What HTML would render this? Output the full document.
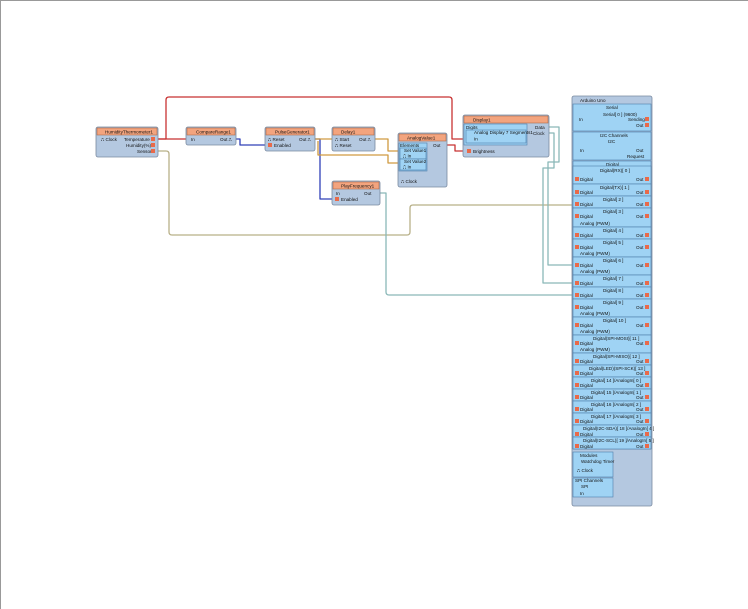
<!DOCTYPE html>
<html><head><meta charset="utf-8"><style>
html,body{margin:0;padding:0;background:#fff;}
svg{display:block;font-family:"Liberation Sans",sans-serif;}
text{font-size:4.6px;fill:#111;}
.b{fill:#b4c8e0;stroke:#7a8aa0;stroke-width:0.8;}
.h{fill:#f3a47e;stroke:#b06a48;stroke-width:0.6;}
.s{fill:#9fd3f4;stroke:#4f7ea8;stroke-width:0.6;}
.w{fill:none;stroke-width:1.3;stroke-linejoin:round;}
.p{fill:#fff;stroke:#555;stroke-width:0.5;}
.ic{fill:#e86a4a;}
</style></head><body>
<svg width="748" height="609" viewBox="0 0 748 609">
<rect x="0" y="0" width="748" height="609" fill="#fff"/>
<path d="M0.5,609 V0.5 H748" fill="none" stroke="#999"/>
<!-- wires -->
<path class="w" stroke="#c83232" d="M158,139 H166 V100 Q166,97 169,97 H449 Q452,97 452,100 V139 H465"/>
<path class="w" stroke="#c83232" d="M158,139 H186"/>
<path class="w" stroke="#c83232" d="M447,145 H455 V151 H465"/>
<path class="w" stroke="#3040b8" d="M236,139 H240 V145 H265"/>
<path class="w" stroke="#3040b8" d="M315,139 H320 V199 H332"/>
<path class="w" stroke="#d09a40" d="M315,139 H332"/>
<path class="w" stroke="#d09a40" d="M318,141 V155 H388 V163 H398"/>
<path class="w" stroke="#d09a40" d="M375,139 H388 V151 H398"/>
<path class="w" stroke="#b8b088" d="M158,151 H166 Q169,151 169,154 V232 Q169,235 172,235 H407 Q410,235 410,232 V208 Q410,205 413,205 H572"/>
<path class="w" stroke="#8ab8b8" d="M380,193 H386 V292 Q386,295 389,295 H572"/>
<path class="w" stroke="#8ab8b8" d="M549,127 H559 V162 H548 V265 H572"/>
<path class="w" stroke="#8ab8b8" d="M549,133 H554 V168 H543 V283 H572"/>

<!-- HumidityThermometer1 -->
<rect class="b" x="96" y="127" width="62" height="30" rx="2"/>
<rect class="h" x="97" y="128" width="60" height="7"/>
<text x="105" y="133.5">HumidityThermometer1</text>
<text x="101" y="141">⎍ Clock</text>
<text x="124" y="141">Temperature</text>
<text x="126" y="147">Humidity(%)</text>
<text x="137" y="153">Sensor</text>
<rect class="ic" x="151" y="137" width="4" height="4"/><rect class="ic" x="151" y="143" width="4" height="4"/><rect class="ic" x="151" y="149" width="4" height="4"/>
<!-- CompareRange1 -->
<rect class="b" x="186" y="127" width="50" height="18" rx="2"/>
<rect class="h" x="187" y="128" width="48" height="7"/>
<text x="196" y="133.5">CompareRange1</text>
<text x="191" y="141">In</text><text x="220" y="141">Out ⎍</text>
<!-- PulseGenerator1 -->
<rect class="b" x="265" y="127" width="50" height="24" rx="2"/>
<rect class="h" x="266" y="128" width="48" height="7"/>
<text x="275" y="133.5">PulseGenerator1</text>
<text x="268" y="141">⎍ Reset</text><text x="299" y="141">Out ⎍</text>
<rect class="ic" x="268" y="143" width="4" height="4"/><text x="274" y="147">Enabled</text>
<!-- Delay1 -->
<rect class="b" x="332" y="127" width="43" height="24" rx="2"/>
<rect class="h" x="333" y="128" width="41" height="7"/>
<text x="341" y="133.5">Delay1</text>
<text x="335" y="141">⎍ Start</text><text x="359" y="141">Out ⎍</text>
<text x="335" y="147">⎍ Reset</text>
<!-- PlayFrequency1 -->
<rect class="b" x="332" y="181" width="48" height="24" rx="2"/>
<rect class="h" x="333" y="182" width="46" height="7"/>
<text x="341" y="187.5">PlayFrequency1</text>
<text x="336" y="195">In</text><text x="364" y="195">Out</text>
<rect class="ic" x="335" y="197" width="4" height="4"/><text x="341" y="201">Enabled</text>
<!-- AnalogValue1 -->
<rect class="b" x="398" y="133" width="49" height="54" rx="2"/>
<rect class="h" x="399" y="134" width="47" height="7"/>
<text x="407" y="139.5">AnalogValue1</text>
<text x="433" y="147">Out</text>
<rect class="s" x="399" y="143" width="28" height="28"/>
<text x="400" y="147">Elements</text>
<rect class="s" x="400" y="148" width="26" height="11"/>
<text x="404" y="152">Set Value1</text><text x="403" y="157.5">⎍ In</text>
<rect class="s" x="400" y="159" width="26" height="11"/>
<text x="404" y="163">Set Value2</text><text x="403" y="168.5">⎍ In</text>
<text x="401" y="183">⎍ Clock</text>
<!-- Display1 -->
<rect class="b" x="463" y="115" width="86" height="42" rx="2"/>
<rect class="h" x="464" y="116" width="84" height="7"/>
<text x="473" y="121.5">Display1</text>
<rect class="s" x="464" y="124" width="63" height="21"/>
<text x="466" y="129">Digits</text>
<rect class="s" x="466" y="130" width="60" height="13"/>
<text x="474" y="134">Analog Display 7 Segments1</text>
<text x="474" y="140.5">In</text>
<text x="535" y="129">Data</text><text x="533" y="135">Clock</text>
<text x="473" y="153">Brightness</text>
<rect class="ic" x="467" y="149" width="4" height="4"/>

<!-- Arduino -->
<rect x="572" y="96" width="80" height="410" rx="2" fill="#b4c8e0" stroke="#7a8aa0" stroke-width="0.8"/>
<text x="580" y="102">Arduino Uno</text>
<rect class="s" x="573" y="104" width="78" height="27"/>
<text x="606" y="109">Serial</text><text x="603" y="116">Serial[ 0 ] (9600)</text>
<text x="579" y="121">In</text><text x="628" y="121">Sending</text><text x="636" y="127">Out</text>
<rect class="s" x="573" y="132" width="78" height="28"/>
<text x="600" y="137">I2C Channels</text><text x="608" y="143">I2C</text>
<text x="580" y="152">In</text><text x="636" y="152">Out</text><text x="627" y="158">Request</text>
<rect class="s" x="573" y="161" width="78" height="288"/>
<text x="606" y="166">Digital</text>
<g id="pins">
<rect class="s" x="573" y="166" width="78" height="18"/><text x="600" y="172">Digital(RX)[ 0 ]</text><text x="580" y="181">Digital</text><text x="636" y="181">Out</text>
<rect class="s" x="573" y="184" width="78" height="12"/><text x="600" y="189">Digital(TX)[ 1 ]</text><text x="580" y="194">Digital</text><text x="636" y="194">Out</text>
<rect class="s" x="573" y="196" width="78" height="12"/><text x="603" y="201">Digital[ 2 ]</text><text x="580" y="206">Digital</text><text x="636" y="206">Out</text>
<rect class="s" x="573" y="208" width="78" height="19"/><text x="603" y="213">Digital[ 3 ]</text><text x="580" y="218">Digital</text><text x="636" y="218">Out</text><text x="580" y="225">Analog (PWM)</text>
<rect class="s" x="573" y="227" width="78" height="12"/><text x="603" y="232">Digital[ 4 ]</text><text x="580" y="237">Digital</text><text x="636" y="237">Out</text>
<rect class="s" x="573" y="239" width="78" height="18"/><text x="603" y="244">Digital[ 5 ]</text><text x="580" y="249">Digital</text><text x="636" y="249">Out</text><text x="580" y="255">Analog (PWM)</text>
<rect class="s" x="573" y="257" width="78" height="18"/><text x="603" y="262">Digital[ 6 ]</text><text x="580" y="267">Digital</text><text x="636" y="267">Out</text><text x="580" y="273">Analog (PWM)</text>
<rect class="s" x="573" y="275" width="78" height="12"/><text x="603" y="280">Digital[ 7 ]</text><text x="580" y="285">Digital</text><text x="636" y="285">Out</text>
<rect class="s" x="573" y="287" width="78" height="12"/><text x="603" y="292">Digital[ 8 ]</text><text x="580" y="297">Digital</text><text x="636" y="297">Out</text>
<rect class="s" x="573" y="299" width="78" height="18"/><text x="603" y="304">Digital[ 9 ]</text><text x="580" y="309">Digital</text><text x="636" y="309">Out</text><text x="580" y="315">Analog (PWM)</text>
<rect class="s" x="573" y="317" width="78" height="18"/><text x="603" y="322">Digital[ 10 ]</text><text x="580" y="327">Digital</text><text x="636" y="327">Out</text><text x="580" y="333">Analog (PWM)</text>
<rect class="s" x="573" y="335" width="78" height="18"/><text x="593" y="340">Digital(SPI-MOSI)[ 11 ]</text><text x="580" y="345">Digital</text><text x="636" y="345">Out</text><text x="580" y="351">Analog (PWM)</text>
<rect class="s" x="573" y="353" width="78" height="12"/><text x="593" y="358">Digital(SPI-MISO)[ 12 ]</text><text x="580" y="363">Digital</text><text x="636" y="363">Out</text>
<rect class="s" x="573" y="365" width="78" height="12"/><text x="589" y="370">Digital(LED)(SPI-SCK)[ 13 ]</text><text x="580" y="375">Digital</text><text x="636" y="375">Out</text>
<rect class="s" x="573" y="377" width="78" height="12"/><text x="591" y="382">Digital[ 14 ]/AnalogIn[ 0 ]</text><text x="580" y="387">Digital</text><text x="636" y="387">Out</text>
<rect class="s" x="573" y="389" width="78" height="12"/><text x="591" y="394">Digital[ 15 ]/AnalogIn[ 1 ]</text><text x="580" y="399">Digital</text><text x="636" y="399">Out</text>
<rect class="s" x="573" y="401" width="78" height="12"/><text x="591" y="406">Digital[ 16 ]/AnalogIn[ 2 ]</text><text x="580" y="411">Digital</text><text x="636" y="411">Out</text>
<rect class="s" x="573" y="413" width="78" height="12"/><text x="591" y="418">Digital[ 17 ]/AnalogIn[ 3 ]</text><text x="580" y="423">Digital</text><text x="636" y="423">Out</text>
<rect class="s" x="573" y="425" width="78" height="12"/><text x="583" y="430">Digital(I2C-SDA)[ 18 ]/AnalogIn[ 4 ]</text><text x="580" y="436">Digital</text><text x="636" y="436">Out</text>
<rect class="s" x="573" y="437" width="78" height="12"/><text x="583" y="442">Digital(I2C-SCL)[ 19 ]/AnalogIn[ 5 ]</text><text x="580" y="448">Digital</text><text x="636" y="448">Out</text>
</g>
<g class="ic">
<rect x="575" y="177" width="4" height="4"/><rect x="645" y="177" width="4" height="4"/>
<rect x="575" y="190" width="4" height="4"/><rect x="645" y="190" width="4" height="4"/>
<rect x="575" y="202" width="4" height="4"/><rect x="645" y="202" width="4" height="4"/>
<rect x="575" y="214" width="4" height="4"/><rect x="645" y="214" width="4" height="4"/>
<rect x="575" y="233" width="4" height="4"/><rect x="645" y="233" width="4" height="4"/>
<rect x="575" y="245" width="4" height="4"/><rect x="645" y="245" width="4" height="4"/>
<rect x="575" y="263" width="4" height="4"/><rect x="645" y="263" width="4" height="4"/>
<rect x="575" y="281" width="4" height="4"/><rect x="645" y="281" width="4" height="4"/>
<rect x="575" y="293" width="4" height="4"/><rect x="645" y="293" width="4" height="4"/>
<rect x="575" y="305" width="4" height="4"/><rect x="645" y="305" width="4" height="4"/>
<rect x="575" y="323" width="4" height="4"/><rect x="645" y="323" width="4" height="4"/>
<rect x="575" y="341" width="4" height="4"/><rect x="645" y="341" width="4" height="4"/>
<rect x="575" y="359" width="4" height="4"/><rect x="645" y="359" width="4" height="4"/>
<rect x="575" y="371" width="4" height="4"/><rect x="645" y="371" width="4" height="4"/>
<rect x="575" y="383" width="4" height="4"/><rect x="645" y="383" width="4" height="4"/>
<rect x="575" y="395" width="4" height="4"/><rect x="645" y="395" width="4" height="4"/>
<rect x="575" y="407" width="4" height="4"/><rect x="645" y="407" width="4" height="4"/>
<rect x="575" y="419" width="4" height="4"/><rect x="645" y="419" width="4" height="4"/>
<rect x="575" y="432" width="4" height="4"/><rect x="645" y="432" width="4" height="4"/>
<rect x="575" y="444" width="4" height="4"/><rect x="645" y="444" width="4" height="4"/>
<rect x="645" y="117" width="4" height="4"/><rect x="645" y="123" width="4" height="4"/>
</g>
<rect class="s" x="573" y="452" width="40" height="25"/>
<text x="580" y="457">Modules</text><text x="581" y="463">Watchdog Timer</text><text x="577" y="472">⎍ Clock</text>
<rect class="s" x="573" y="478" width="40" height="19"/>
<text x="575" y="482">SPI Channels</text><text x="581" y="488">SPI</text><text x="580" y="495">In</text>
</svg>
</body></html>
